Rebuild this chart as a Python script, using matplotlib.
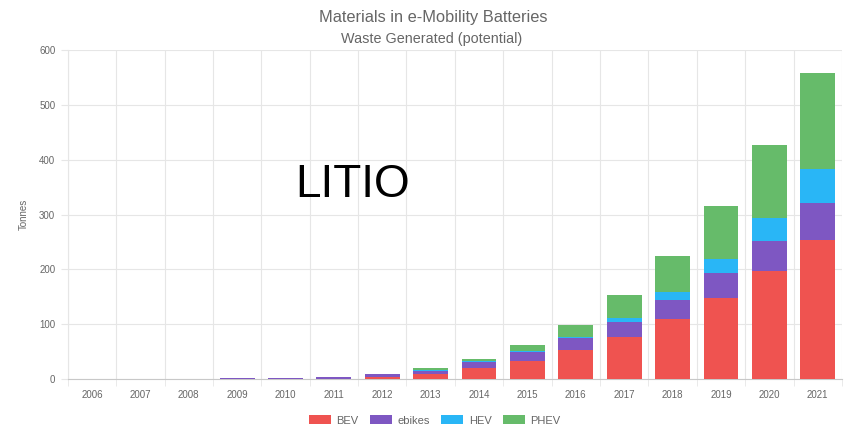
import numpy as np
import matplotlib.pyplot as plt
from matplotlib.patches import Patch

plt.rcParams['font.family'] = ['Liberation Sans', 'DejaVu Sans']

years = [str(y) for y in range(2006, 2022)]
bev = [0, 0, 0, 0, 0.3, 0.5, 4, 9, 20, 33, 53, 77, 109, 148, 197, 254]
ebikes = [0.2, 0.3, 0.4, 1, 2, 2.5, 5, 6, 11, 16, 22, 27, 35, 45, 55, 67]
hev = [0, 0, 0, 0, 0, 0, 0, 0.5, 1, 1.5, 2, 7, 15, 26, 42, 62]
phev = [0, 0, 0, 0, 0.2, 0.3, 0.5, 4.5, 4, 11.5, 22, 42, 65, 97, 133, 176]

series = [("BEV", bev, "#ef5350"),
          ("ebikes", ebikes, "#7e57c2"),
          ("HEV", hev, "#29b6f6"),
          ("PHEV", phev, "#66bb6a")]

grid_col = "#e6e6e6"
text_col = "#666666"

fig = plt.figure(figsize=(8.47, 4.32), dpi=100)
ax = fig.add_axes([0.080, 0.1227, 0.914, 0.7613])

x = np.arange(len(years))
bottom = np.zeros(len(years))
for name, vals, col in series:
    vals = np.array(vals, dtype=float)
    ax.bar(x, vals, width=0.72, bottom=bottom, color=col, zorder=3)
    bottom += vals

ax.set_xlim(-0.5, len(years) - 0.5)
ax.set_ylim(0, 600)
ax.set_yticks(np.arange(0, 601, 100))
ax.set_xticks(x)
ax.set_xticklabels(years)

# vertical grid lines sit between the categories
ax.set_xticks(np.arange(-0.5, len(years), 1), minor=True)
ax.grid(True, which="minor", axis="x", color=grid_col, linewidth=0.8, zorder=0)
ax.grid(True, which="major", axis="y", color=grid_col, linewidth=0.8, zorder=0)
ax.tick_params(axis="x", which="major", length=0, colors=text_col, labelsize=7, pad=8)
ax.tick_params(axis="x", which="minor", length=5, color=grid_col)
ax.tick_params(axis="y", length=5, color=grid_col, colors=text_col, labelsize=7, pad=4)
ax.tick_params(axis="y", color=grid_col)

for side in ["top", "right"]:
    ax.spines[side].set_visible(False)
ax.spines["left"].set_color(grid_col)
ax.spines["bottom"].set_color("#c8c8c8")

ax.set_ylabel("Tonnes", fontsize=7, color=text_col, labelpad=7)

fig.text(0.511, 1 - 17.7 / 432, "Materials in e-Mobility Batteries", ha="center", va="center",
         fontsize=11.8, color=text_col)
fig.text(0.510, 1 - 38.5 / 432, "Waste Generated (potential)", ha="center", va="center",
         fontsize=10.4, color=text_col)

fig.text(0.416, 0.571, "LITIO", ha="center", va="center", fontsize=33, color="black")

handles = [Patch(facecolor=col, edgecolor="none", label=name) for name, _, col in series]
fig.legend(handles=handles, loc="center", bbox_to_anchor=(0.513, 0.027), ncol=4,
           frameon=False, fontsize=8, labelcolor=text_col, handlelength=2.0,
           handleheight=0.9, columnspacing=1.0, handletextpad=0.5)

plt.savefig("out.png", dpi=100)
